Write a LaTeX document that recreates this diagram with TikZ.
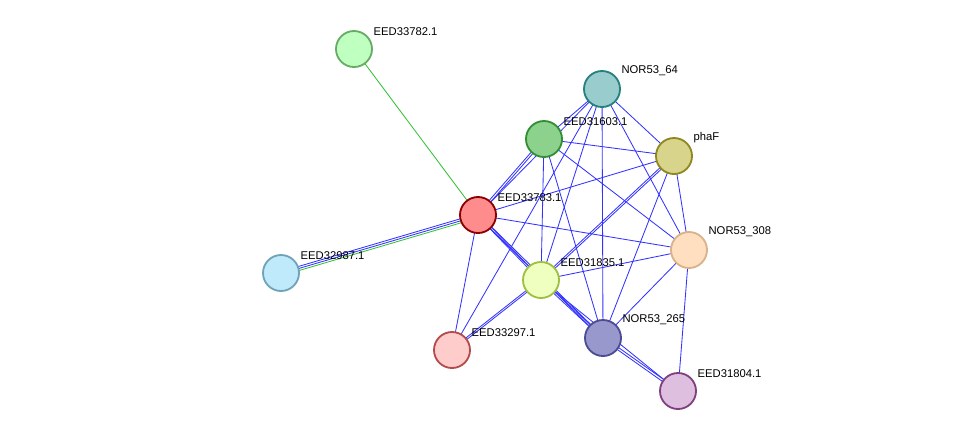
\documentclass[tikz,border=0pt]{standalone}
\usepackage{fontspec}
\setmainfont{Liberation Sans}
\usepackage{xcolor}
\usetikzlibrary{positioning,backgrounds}

\tikzset{
  prot/.style={circle, minimum size=0.9cm, line width=1.3pt, inner sep=0pt},
  lbl/.style={font=\fontsize{8}{9}\selectfont, label distance=-0.5mm},
  ppi/.style={draw=blue!80!white, line width=0.6pt},
  tm/.style={draw=green!70!black!80, line width=0.6pt}
}

\begin{document}
\begin{tikzpicture}[x=0.025cm, y=-0.025cm]
\useasboundingbox (0,0) rectangle (975,437);

% proteins
\node[prot, fill=green!25!white, draw=green!45!black!60] (n33782) at (354,49) [label={[lbl]30:EED33782.1}] {};
\node[prot, fill=teal!40!white, draw=teal!70!gray] (n64) at (602,89) [label={[lbl]30:NOR53\_64}] {};
\node[prot, fill=green!60!black!45, draw=green!45!black!80] (n31603) at (544,139) [label={[lbl]30:EED31603.1}] {};
\node[prot, fill=yellow!50!gray!70, draw=olive!80!gray] (nphaF) at (674,156) [label={[lbl]30:phaF}] {};
\node[prot, fill=red!45!white, draw=red!55!black] (n33783) at (478,215) [label={[lbl]30:EED33783.1}] {};
\node[prot, fill=orange!25!white, draw=brown!60!white] (n308) at (689,250) [label={[lbl]30:NOR53\_308}] {};
\node[prot, fill=cyan!25!white, draw=cyan!40!gray] (n32987) at (281,273) [label={[lbl]30:EED32987.1}] {};
\node[prot, fill=lime!25!white, draw=lime!50!gray] (n31835) at (541,280) [label={[lbl]30:EED31835.1}] {};
\node[prot, fill=blue!35!gray!60, draw=blue!40!black!70] (n265) at (603,338) [label={[lbl]30:NOR53\_265}] {};
\node[prot, fill=red!20!white, draw=red!40!gray] (n33297) at (452,350) [label={[lbl]30:EED33297.1}] {};
\node[prot, fill=violet!25!white, draw=violet!50!gray] (n31804) at (678,391) [label={[lbl]30:EED31804.1}] {};

% edges
\begin{scope}[on background layer]
\draw[tm] (n33782.center) -- (n33783.center);
\draw[ppi, transform canvas={yshift=1pt}] (n32987.center) -- (n33783.center);
\draw[ppi, transform canvas={yshift=-0.5pt}] (n32987.center) -- (n33783.center);
\draw[tm, transform canvas={yshift=-2pt}] (n32987.center) -- (n33783.center);

\draw[ppi] (n33783.center) -- (n64.center);
\draw[ppi, transform canvas={xshift=1pt}] (n33783.center) -- (n31603.center);
\draw[ppi, transform canvas={xshift=-1pt}] (n33783.center) -- (n31603.center);
\draw[ppi] (n33783.center) -- (nphaF.center);
\draw[ppi] (n33783.center) -- (n308.center);
\draw[ppi, transform canvas={yshift=1pt}] (n33783.center) -- (n31835.center);
\draw[ppi, transform canvas={yshift=-1pt}] (n33783.center) -- (n31835.center);
\draw[ppi, transform canvas={yshift=1pt}] (n33783.center) -- (n265.center);
\draw[ppi, transform canvas={yshift=-1pt}] (n33783.center) -- (n265.center);
\draw[ppi] (n33783.center) -- (n33297.center);

\draw[ppi] (n64.center) -- (n31603.center);
\draw[ppi] (n64.center) -- (nphaF.center);
\draw[ppi] (n64.center) -- (n308.center);
\draw[ppi] (n64.center) -- (n31835.center);
\draw[ppi] (n64.center) -- (n265.center);
\draw[ppi] (n64.center) -- (n33297.center);

\draw[ppi] (n31603.center) -- (nphaF.center);
\draw[ppi] (n31603.center) -- (n308.center);
\draw[ppi] (n31603.center) -- (n31835.center);
\draw[ppi] (n31603.center) -- (n265.center);

\draw[ppi, transform canvas={xshift=1pt}] (nphaF.center) -- (n31835.center);
\draw[ppi, transform canvas={xshift=-1pt}] (nphaF.center) -- (n31835.center);
\draw[ppi] (nphaF.center) -- (n265.center);
\draw[ppi] (nphaF.center) -- (n308.center);

\draw[ppi] (n308.center) -- (n31835.center);
\draw[ppi] (n308.center) -- (n265.center);
\draw[ppi] (n308.center) -- (n31804.center);

\draw[ppi, transform canvas={yshift=1pt}] (n31835.center) -- (n265.center);
\draw[ppi, transform canvas={yshift=-1pt}] (n31835.center) -- (n265.center);
\draw[ppi, transform canvas={xshift=1pt}] (n31835.center) -- (n33297.center);
\draw[ppi, transform canvas={xshift=-1pt}] (n31835.center) -- (n33297.center);
\draw[ppi] (n31835.center) -- (n31804.center);
\draw[ppi, transform canvas={yshift=1pt}] (n265.center) -- (n31804.center);
\draw[ppi, transform canvas={yshift=-1pt}] (n265.center) -- (n31804.center);
\end{scope}
\end{tikzpicture}
\end{document}
